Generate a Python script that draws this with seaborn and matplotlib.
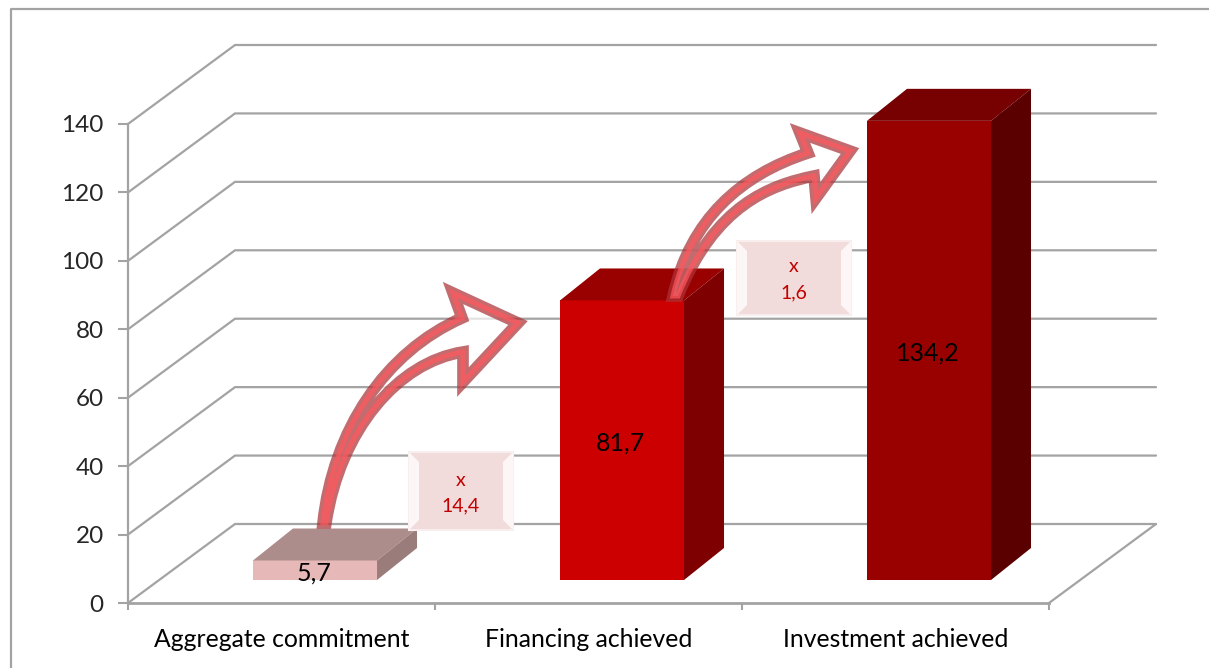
import matplotlib
matplotlib.use("Agg")
import matplotlib.pyplot as plt
from matplotlib.path import Path
from matplotlib.patches import PathPatch, Polygon, Rectangle
from matplotlib.transforms import Affine2D
import pandas as pd
import seaborn as sns

# values
categories = ["Aggregate commitment", "Financing achieved", "Investment achieved"]
values = [5.7, 81.7, 134.2]
front_colors = ["#e6b9b8", "#cc0000", "#990000"]
top_colors = ["#ad8d8c", "#990000", "#770000"]
side_colors = ["#9a7c7b", "#7f0000", "#5a0000"]
y_ticks = [0, 20, 40, 60, 80, 100, 120, 140]

sns.set_theme(style="white")
plt.rcParams["font.family"] = ["Lato", "DejaVu Sans"]

GREY = "#a3a3a3"
fig = plt.figure(figsize=(12.09, 6.68), dpi=100)
ax = fig.add_axes([128 / 1209, 65 / 668, 921 / 1209, 479 / 668])

df = pd.DataFrame({"cat": categories, "val": values})
sns.barplot(data=df, x="cat", y="val", hue="cat", palette=front_colors, width=0.404,
            legend=False, saturation=1, ax=ax, zorder=3, linewidth=0)
ax.set_xlim(-0.5, 2.5)
ax.set_ylim(0, 140)

# pseudo 3d offsets, in data units
px_x = 1 / 307
px_y = 140 / 479
bar_dx, bar_dy = 33.5 * px_x, 23 * px_y
depth_x, depth_y = 40 * px_x, 32 * px_y
wall_x, wall_y = 107 * px_x, 79 * px_y
front = Affine2D().translate(bar_dx, bar_dy) + ax.transData

for bar, v, top_c, side_c in zip(ax.patches, values, top_colors, side_colors):
    bar.set_transform(front)
    bar.set_clip_on(False)
    x0 = bar.get_x()
    x1 = x0 + bar.get_width()
    ax.fill([x0, x1, x1 + depth_x, x0 + depth_x], [v, v, v + depth_y, v + depth_y],
            color=top_c, lw=0, transform=front, clip_on=False, zorder=3)
    ax.fill([x1, x1 + depth_x, x1 + depth_x, x1], [0, depth_y, v + depth_y, v],
            color=side_c, lw=0, transform=front, clip_on=False, zorder=3)

# back wall grid
for v in y_ticks:
    ax.plot([-0.5, -0.5 + wall_x, 2.5 + wall_x], [v, v + wall_y, v + wall_y],
            color=GREY, lw=1.6, clip_on=False, zorder=1, solid_joinstyle="miter")
ax.plot([2.5, 2.5 + wall_x], [0, wall_y], color=GREY, lw=1.6, clip_on=False, zorder=1)

sns.despine(ax=ax)
ax.spines["left"].set_color(GREY)
ax.spines["bottom"].set_color(GREY)
ax.spines["left"].set_linewidth(1.6)
ax.spines["bottom"].set_linewidth(2)
ax.set_xlabel("")
ax.set_ylabel("")
ax.set_yticks(y_ticks)
ax.set_xticks([-0.5, 0.5, 1.5, 2.5], minor=True)
ax.tick_params(axis="x", which="major", length=0, labelsize=17.8, pad=18, colors="black")
ax.tick_params(axis="x", which="minor", length=5, width=1.5, color=GREY, bottom=True)
ax.tick_params(axis="y", length=7, width=1.5, color=GREY, labelsize=17.5, pad=10.5, left=True)

for i, v in enumerate(values):
    ax.annotate(str(v).replace(".", ","), (i, v / 2), xycoords=front, xytext=(-1, -2),
                textcoords="offset points", ha="center", va="center",
                fontsize=18, color="black", zorder=5)

# overlay in picture pixels for the decorations
pix = fig.add_axes([0, 0, 1, 1], zorder=5)
pix.set_xlim(0, 1209)
pix.set_ylim(668, 0)
pix.axis("off")
pix.patch.set_alpha(0)

pix.plot([11, 11, 1209], [668, 9, 9], color=GREY, lw=1.6, clip_on=False)


def curved_arrow(start, c1, c2, neck, head_top, tip, head_bot, notch, c3, c4, end):
    verts = [start, c1, c2, neck, head_top, tip, head_bot, notch, c3, c4, end, start]
    codes = [Path.MOVETO, Path.CURVE4, Path.CURVE4, Path.CURVE4, Path.LINETO, Path.LINETO,
             Path.LINETO, Path.LINETO, Path.CURVE4, Path.CURVE4, Path.CURVE4, Path.CLOSEPOLY]
    shape = Path(verts, codes)
    pix.add_patch(PathPatch(shape, fc=(1, 1, 1, 0.7), ec=(0.68, 0.2, 0.22, 0.72), lw=8.4,
                            joinstyle="miter"))
    pix.add_patch(PathPatch(shape, fc="none", ec=(1, 0.34, 0.36, 0.7), lw=3.6, joinstyle="miter"))


curved_arrow((323, 523), (333, 430), (385, 352), (462, 318), (453, 293), (518, 323), (463, 382),
             (463, 352), (398, 362), (340, 430), (326, 523))
curved_arrow((673, 296), (690, 220), (740, 175), (808, 153), (800, 133), (850, 151), (816, 198),
             (814, 176), (770, 185), (715, 205), (678, 296))


def bevel_box(x0, y0, x1, y1, lines, line_ys):
    pix.add_patch(Rectangle((x0, y0), x1 - x0, y1 - y0, fc="#f2dcdb", ec="#f9eeee", lw=1.5))
    b = 10
    pix.add_patch(Polygon([(x0, y0), (x0 + b, y0 + b), (x0 + b, y1 - b), (x0, y1)], fc="#fdf6f6", lw=0))
    pix.add_patch(Polygon([(x1, y0), (x1 - b, y0 + b), (x1 - b, y1 - b), (x1, y1)], fc="#fdf6f6", lw=0))
    cx = (x0 + x1) / 2
    for txt, yy in zip(lines, line_ys):
        pix.text(cx, yy, txt, color="#c00000", fontsize=14, ha="center", va="center")


bevel_box(409, 452, 513, 530, ["x", "14,4"], [480, 506])
bevel_box(737, 241, 851, 315, ["x", "1,6"], [266, 293])

fig.savefig("out.png", dpi=100)
